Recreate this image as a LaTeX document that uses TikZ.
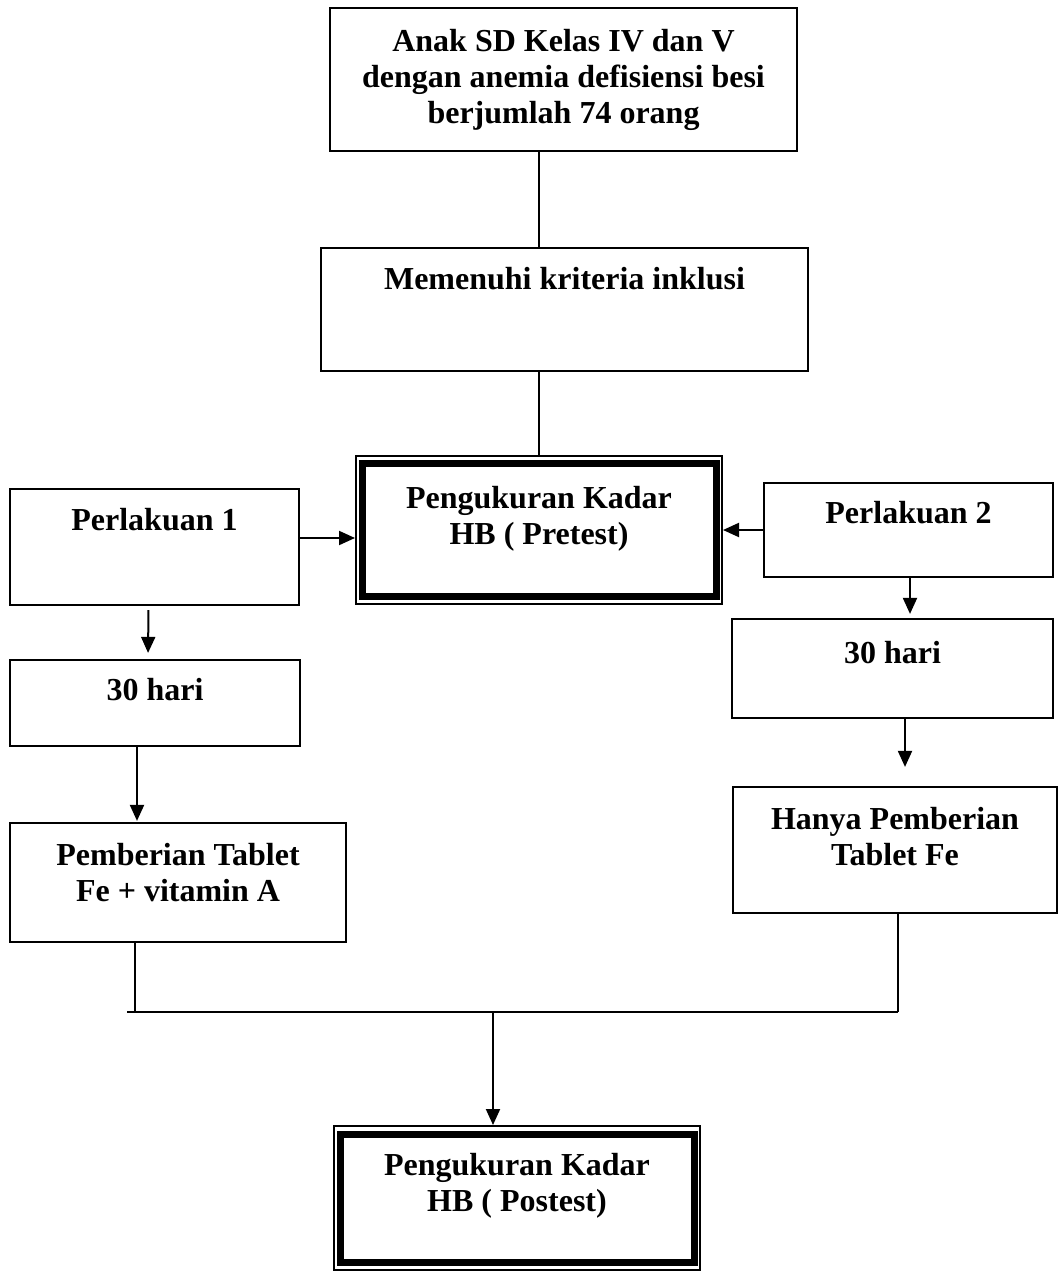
\documentclass[tikz,border=0pt]{standalone}
\usepackage{fontspec}
\setmainfont{Liberation Serif}
\usetikzlibrary{arrows.meta}

\tikzset{
    box/.style={draw, line width=2.2pt, inner sep=0pt},
    txt/.style={font=\fontsize{32}{36}\selectfont\bfseries, align=center},
    arr/.style={-{Triangle[length=16pt,width=14pt]}, line width=2pt},
    con/.style={line width=2pt},
}

\begin{document}
\begin{tikzpicture}[x=1pt,y=-1pt]
    \useasboundingbox (0,0) rectangle (1060,1271);
    \node[box, minimum width=467pt, minimum height=143pt, label={[txt]center:Anak SD Kelas IV dan V\\dengan anemia defisiensi besi\\berjumlah 74 orang}] (sample) at (563.5,79.5) {};
    \node[box, minimum width=487pt, minimum height=123pt, label={[txt,yshift=31pt]center:Memenuhi kriteria inklusi}] (crit) at (564.5,309.5) {};
    \node[box, line width=2pt, minimum width=366pt, minimum height=148pt, label={[txt,yshift=11pt]center:Pengukuran Kadar\\HB ( Pretest)}] (pre) at (539,530) {};
    \draw[line width=7pt] ([shift={(7,8.5)}]pre.north west) rectangle ([shift={(-7,-8.5)}]pre.south east);
    \node[box, minimum width=289pt, minimum height=116pt, label={[txt,yshift=27pt]center:Perlakuan 1}] (p1) at (154.5,547) {};
    \node[box, minimum width=289pt, minimum height=94pt, label={[txt,yshift=17pt]center:Perlakuan 2}] (p2) at (908.5,530) {};
    \node[box, minimum width=290pt, minimum height=86pt, label={[txt,yshift=13pt]center:30 hari}] (d1) at (155,703) {};
    \node[box, minimum width=321pt, minimum height=99pt, label={[txt,yshift=16pt]center:30 hari}] (d2) at (892.5,668.5) {};
    \node[box, minimum width=336pt, minimum height=119pt, label={[txt,yshift=10pt]center:Pemberian Tablet\\Fe + vitamin A}] (fe1) at (178,882.5) {};
    \node[box, minimum width=324pt, minimum height=126pt, label={[txt,yshift=13pt]center:Hanya Pemberian\\Tablet Fe}] (fe2) at (895,850) {};
    \node[box, line width=2pt, minimum width=366pt, minimum height=144pt, label={[txt,yshift=12pt]center:Pengukuran Kadar\\HB ( Postest)}] (post) at (517,1198) {};
    \draw[line width=7pt] ([shift={(7,9)}]post.north west) rectangle ([shift={(-7,-9)}]post.south east);

    \draw[con] (pre.north |- sample.south) -- (pre.north |- crit.north);
    \draw[con] (pre.north |- crit.south) -- (pre.north);
    \draw[arr] ([yshift=9pt]p1.east) -- ([yshift=-8pt]pre.west);
    \draw[arr] (p2.west) -- (pre.east);
    \draw[arr, shorten <=4pt, shorten >=6pt] ([xshift=-6pt]p1.south) -- ([xshift=-7pt]d1.north);
    \draw[arr, shorten >=1pt] ([xshift=-18pt]d1.south) -- ([xshift=-41pt]fe1.north);
    \draw[arr, shorten >=4pt] ([xshift=1.5pt]p2.south) -- ([xshift=17.5pt]d2.north);
    \draw[arr, shorten >=19pt] ([xshift=12.5pt]d2.south) -- ([xshift=10pt]fe2.north);

    \coordinate (jl) at (127,1012);
    \coordinate (j1) at (135,1012);
    \coordinate (j2) at (898,1012);
    \coordinate (jm) at (493,1012);
    \draw[con] (j1 |- fe1.south) -- (j1);
    \draw[con] (j2 |- fe2.south) -- (j2);
    \draw[con] (jl) -- (j2);
    \draw[arr] (jm) -- (jm |- post.north);
\end{tikzpicture}
\end{document}
